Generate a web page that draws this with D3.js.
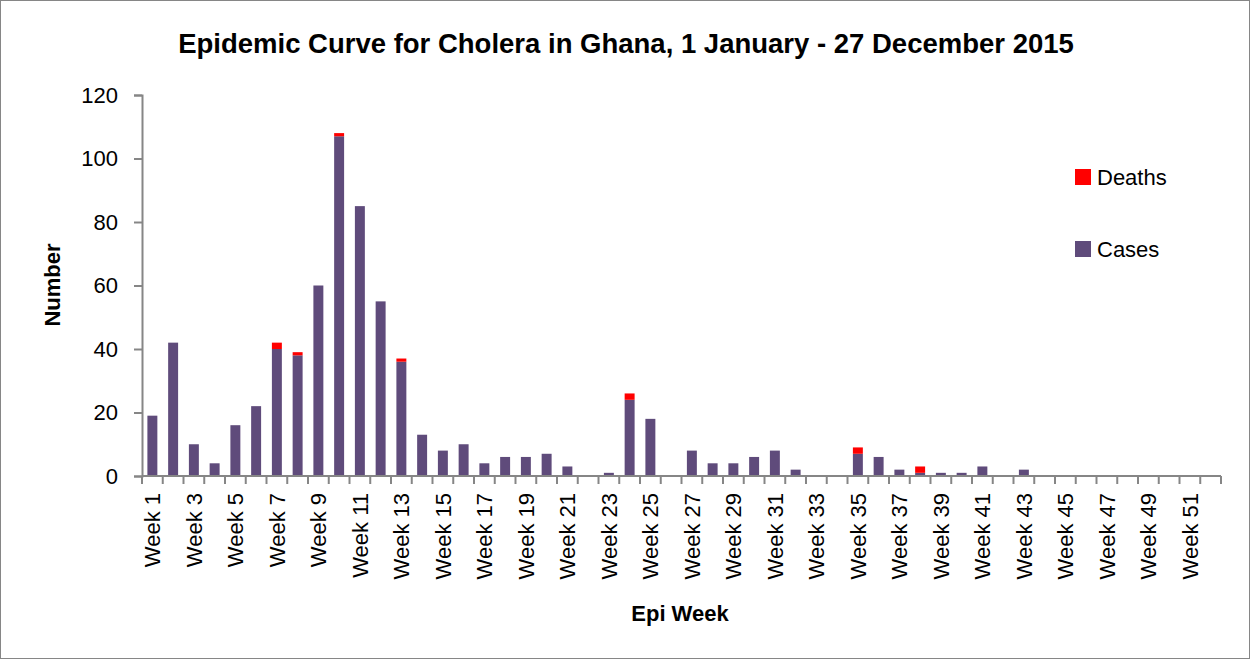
<!DOCTYPE html>
<html>
<head>
<meta charset="utf-8">
<script src="https://cdn.jsdelivr.net/npm/d3@7"></script>
<style>
  body { margin: 0; background: #fff; }
  svg { font-family: "Liberation Sans", Arial, sans-serif; }
</style>
</head>
<body>
<svg id="chart" width="1250" height="660"></svg>
<script>
const weeks = d3.range(1, 53).map(i => "Week " + i);
const cases = [19, 42, 10, 4, 16, 22, 40, 38, 60, 107, 85, 55, 36, 13, 8, 10, 4, 6, 6, 7,
  3, 0, 1, 24, 18, 0, 8, 4, 4, 6, 8, 2, 0, 0, 7, 6, 2, 1, 1, 1,
  3, 0, 2, 0, 0, 0, 0, 0, 0, 0, 0, 0];
const deaths = [0, 0, 0, 0, 0, 0, 2, 1, 0, 1, 0, 0, 1, 0, 0, 0, 0, 0, 0, 0,
  0, 0, 0, 2, 0, 0, 0, 0, 0, 0, 0, 0, 0, 0, 2, 0, 0, 2, 0, 0,
  0, 0, 0, 0, 0, 0, 0, 0, 0, 0, 0, 0];
const yTicks = [0, 20, 40, 60, 80, 100, 120];
const seriesNames = ["Cases", "Deaths"];
const seriesColors = ["#5F4B7B", "#FF0000"];

const svg = d3.select("#chart");
const width = +svg.attr("width");
const height = +svg.attr("height");
const margin = {top: 95, right: 29, bottom: 184, left: 142};
const innerWidth = width - margin.left - margin.right;
const innerHeight = height - margin.top - margin.bottom;
const axisColor = "#868686";

// outer frame
svg.append("rect")
  .attr("x", 0.5).attr("y", 0.5)
  .attr("width", width - 1).attr("height", height - 2)
  .attr("fill", "none").attr("stroke", axisColor);

const table = weeks.map((w, i) => ({week: w, Cases: cases[i], Deaths: deaths[i]}));
const stacked = d3.stack().keys(seriesNames)(table);

const x = d3.scaleBand().domain(weeks).range([0, innerWidth]).paddingInner(0.52).paddingOuter(0.26);
const y = d3.scaleLinear().domain([0, 120]).range([innerHeight, 0]);
const color = d3.scaleOrdinal().domain(seriesNames).range(seriesColors);

const chart = svg.append("g")
  .attr("transform", "translate(" + margin.left + "," + margin.top + ")");

// bars
chart.selectAll("g.series")
  .data(stacked)
  .enter().append("g")
  .attr("class", "series")
  .attr("fill", d => color(d.key))
  .selectAll("rect")
  .data(d => d)
  .enter().append("rect")
  .attr("x", d => x(d.data.week))
  .attr("y", d => y(d[1]))
  .attr("width", x.bandwidth())
  .attr("height", d => y(d[0]) - y(d[1]));

// y axis
const yAxis = chart.append("g")
  .call(d3.axisLeft(y).tickValues(yTicks).tickSize(8).tickPadding(16));
yAxis.select(".domain").attr("stroke", axisColor).attr("stroke-width", 2);
yAxis.selectAll(".tick line").attr("stroke", axisColor).attr("stroke-width", 2);
yAxis.selectAll(".tick text").attr("font-size", 22).attr("fill", "#000");

// x axis: tick marks at category boundaries
const step = x.step();
const xAxis = chart.append("g").attr("transform", "translate(0," + innerHeight + ")");
xAxis.append("line")
  .attr("x1", 0).attr("x2", innerWidth)
  .attr("stroke", axisColor).attr("stroke-width", 2);
xAxis.selectAll("line.tick")
  .data(d3.range(weeks.length + 1))
  .enter().append("line")
  .attr("class", "tick")
  .attr("x1", i => i * step).attr("x2", i => i * step)
  .attr("y1", 0).attr("y2", 8)
  .attr("stroke", axisColor).attr("stroke-width", 2);
xAxis.selectAll("text")
  .data(weeks.filter((w, i) => i % 2 === 0))
  .enter().append("text")
  .attr("transform", d => "translate(" + (x(d) + x.bandwidth() / 2 + 8) + ",17) rotate(-90)")
  .attr("text-anchor", "end")
  .attr("font-size", 22)
  .text(d => d);

// titles
svg.append("text")
  .attr("x", 626).attr("y", 53)
  .attr("text-anchor", "middle")
  .attr("font-size", 27.5).attr("font-weight", "bold")
  .text("Epidemic Curve for Cholera in Ghana, 1 January - 27 December 2015");
svg.append("text")
  .attr("transform", "translate(60,285) rotate(-90)")
  .attr("text-anchor", "middle")
  .attr("font-size", 22).attr("font-weight", "bold")
  .text("Number");
svg.append("text")
  .attr("x", 680).attr("y", 621)
  .attr("text-anchor", "middle")
  .attr("font-size", 22).attr("font-weight", "bold")
  .text("Epi Week");

// legend
const legend = svg.append("g").attr("transform", "translate(1075,169)");
const legendItems = legend.selectAll("g")
  .data(["Deaths", "Cases"])
  .enter().append("g")
  .attr("transform", (d, i) => "translate(0," + i * 72 + ")");
legendItems.append("rect")
  .attr("width", 16).attr("height", 16)
  .attr("fill", d => color(d));
legendItems.append("text")
  .attr("x", 22).attr("y", 16)
  .attr("font-size", 22)
  .text(d => d);
</script>
</body>
</html>
